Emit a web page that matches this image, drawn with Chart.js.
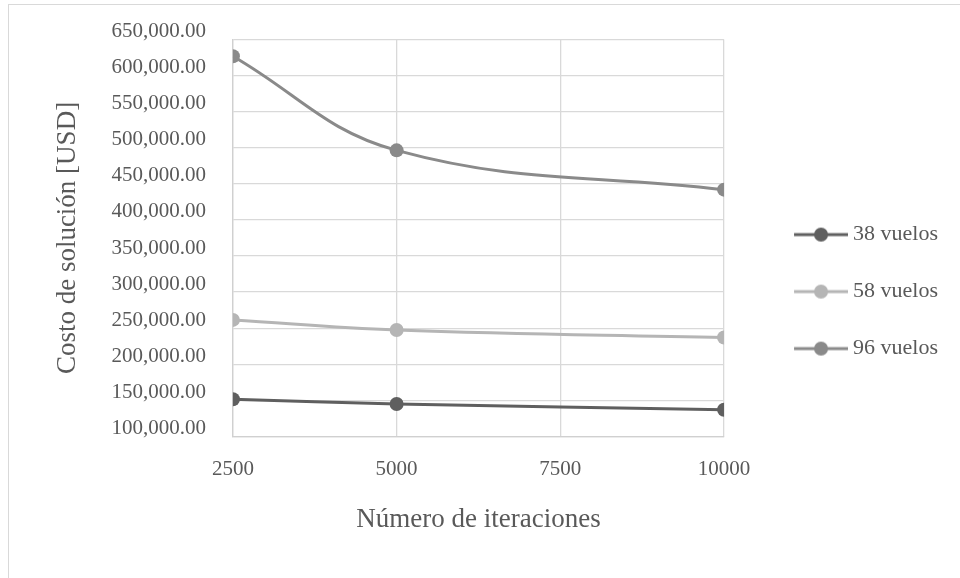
<!DOCTYPE html>
<html>
<head>
<meta charset="utf-8">
<script src="https://cdn.jsdelivr.net/npm/chart.js@4.4.1/dist/chart.umd.min.js"></script>
<style>
  html, body { margin: 0; padding: 0; background: #fff; }
  #wrap { position: relative; width: 960px; height: 578px; overflow: hidden; }
  #frame { position: absolute; left: 8px; top: 4px; width: 1000px; height: 700px; border: 1px solid #d9d9d9; }
  #box { position: absolute; left: 0; top: 0; width: 960px; height: 578px; }
</style>
</head>
<body>
<div id="wrap">
  <div id="frame"></div>
  <div id="box"><canvas id="myChart"></canvas></div>
</div>
<script>
// Datos
var iteraciones = [2500, 5000, 10000];
var vuelos38 = [151500, 145000, 137000];
var vuelos58 = [261500, 247500, 237000];
var vuelos96 = [627000, 496500, 442000];
var xTicks = [2500, 5000, 7500, 10000];
var seriesNames = ['38 vuelos', '58 vuelos', '96 vuelos'];
var seriesColors = ['rgb(95,95,95)', 'rgb(181,181,181)', 'rgb(138,138,138)'];

function toPoints(values) {
    return iteraciones.map(function (it, i) { return { x: it, y: values[i] }; });
}

// legend marker: line with a dot, drawn in the right part of a wider image
function legendMarker(color) {
    var c = document.createElement('canvas');
    c.width = 95; c.height = 16;
    var g = c.getContext('2d');
    g.strokeStyle = color;
    g.lineWidth = 3;
    g.beginPath();
    g.moveTo(41, 8); g.lineTo(95, 8);
    g.stroke();
    g.fillStyle = color;
    g.beginPath();
    g.arc(68, 8, 7, 0, Math.PI * 2);
    g.fill();
    return c;
}
var markers = seriesColors.map(legendMarker);

Chart.defaults.font.family = "'Liberation Serif', 'Times New Roman', serif";
Chart.defaults.color = '#595959';

var allSeries = [vuelos38, vuelos58, vuelos96];

var ctx = document.getElementById('myChart').getContext('2d');
var chart = new Chart(ctx, {
    type: 'line',
    data: {
        datasets: allSeries.map(function (vals, i) {
            return {
                label: seriesNames[i],
                data: toPoints(vals),
                borderColor: seriesColors[i],
                backgroundColor: seriesColors[i],
                borderWidth: 3,
                pointRadius: 7,
                pointHoverRadius: 7,
                pointBorderWidth: 0,
                tension: 0.4,
                fill: false
            };
        })
    },
    options: {
        responsive: true,
        maintainAspectRatio: false,
        animation: false,
        layout: { padding: { top: 36, bottom: 42, left: 42, right: 12 } },
        plugins: {
            tooltip: { enabled: false },
            legend: {
                position: 'right',
                align: 'center',
                // empty title only to push the items a few pixels down
                title: { display: true, text: ' ', font: { size: 1 }, padding: { top: 10, bottom: 0 } },
                labels: {
                    usePointStyle: true,
                    pointStyleWidth: 83,
                    padding: 35,
                    font: { size: 22 },
                    color: '#595959',
                    generateLabels: function (ch) {
                        var items = Chart.defaults.plugins.legend.labels.generateLabels(ch);
                        items.forEach(function (it, i) { it.pointStyle = markers[i]; });
                        return items;
                    }
                }
            }
        },
        scales: {
            x: {
                type: 'linear',
                min: 2500,
                max: 10000,
                afterBuildTicks: function (scale) {
                    scale.ticks = xTicks.map(function (v) { return { value: v }; });
                },
                ticks: {
                    padding: 20,
                    font: { size: 21 },
                    callback: function (v) { return String(v); }
                },
                grid: { color: '#d9d9d9', lineWidth: 1.3, drawTicks: false },
                border: { color: '#d0d0d0', width: 1.3 },
                title: {
                    display: true,
                    text: 'Número de iteraciones',
                    font: { size: 27 },
                    padding: { top: 2, bottom: 0 }
                }
            },
            y: {
                min: 100000,
                max: 650000,
                ticks: {
                    stepSize: 50000,
                    padding: 27,
                    labelOffset: -8,
                    font: { size: 21 },
                    callback: function (v) {
                        return v.toLocaleString('en-US', { minimumFractionDigits: 2, maximumFractionDigits: 2 });
                    }
                },
                grid: { color: '#d9d9d9', lineWidth: 1.3, drawTicks: false },
                border: { color: '#d0d0d0', width: 1.3 },
                title: {
                    display: true,
                    text: 'Costo de solución [USD]',
                    font: { size: 27 },
                    padding: { top: 10, bottom: 0 }
                }
            }
        }
    }
});
</script>
</body>
</html>
